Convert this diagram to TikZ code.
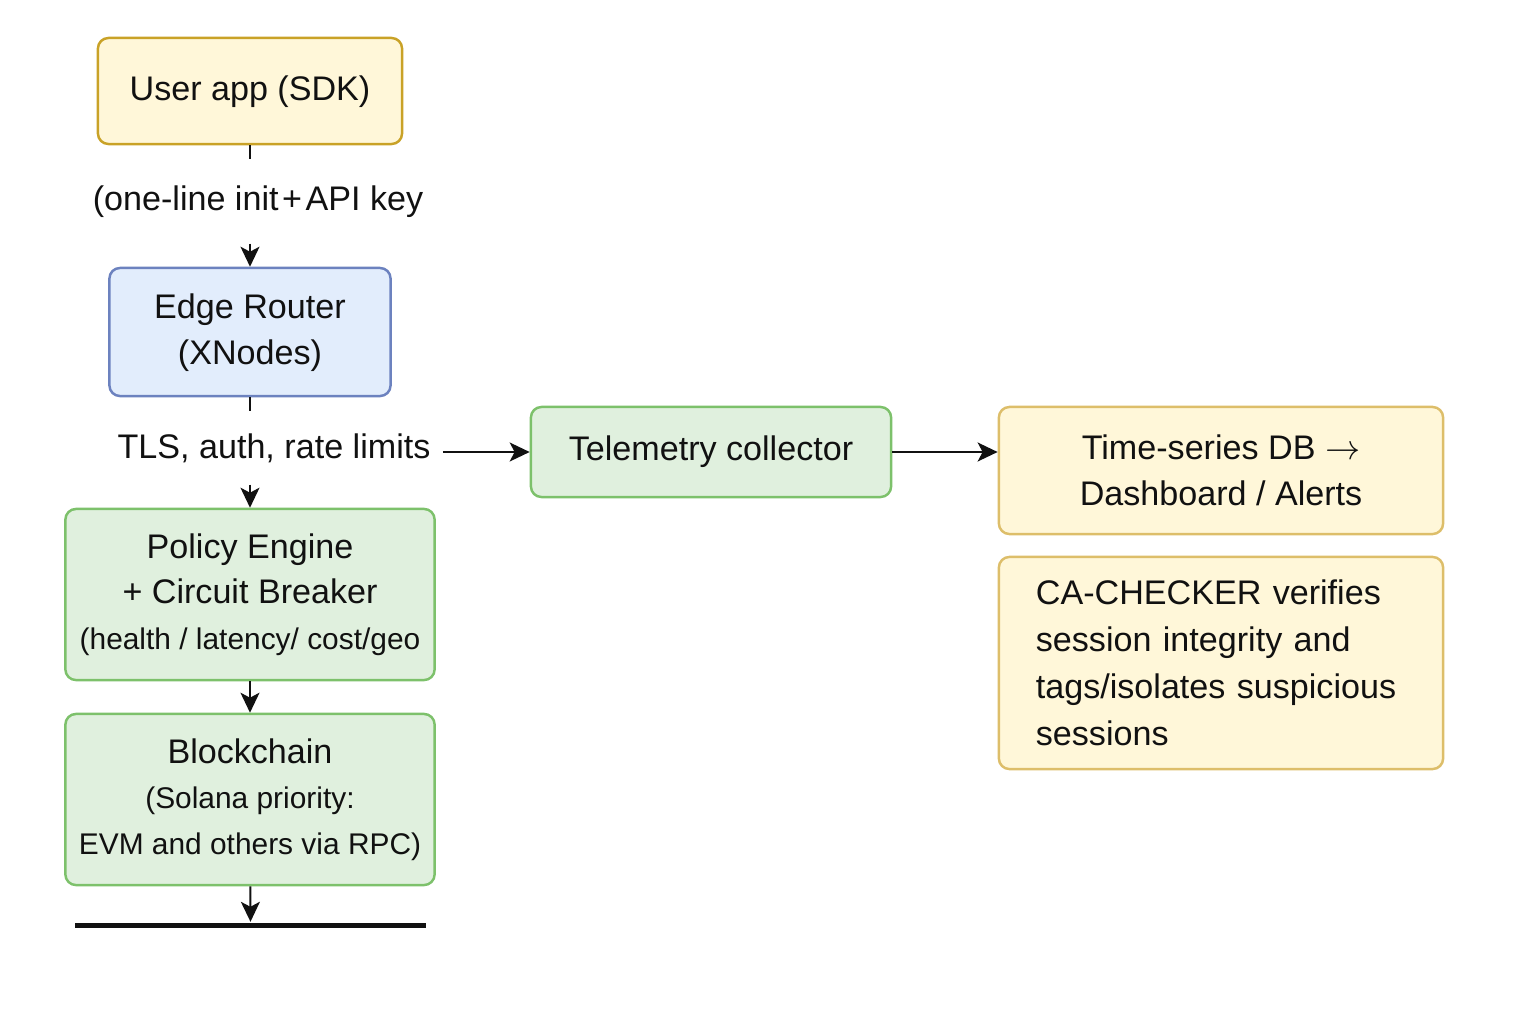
\documentclass[tikz,border=0pt]{standalone}
\usepackage{fontspec}
\setmainfont{Liberation Sans}
\usepackage{tikz}
\usepackage{xcolor}
\usetikzlibrary{arrows.meta,positioning}
\definecolor{ink}{HTML}{111111}
\definecolor{yelbg}{HTML}{FFF7D9}
\definecolor{yeldark}{HTML}{C9A227}
\definecolor{yellite}{HTML}{DDBE6A}
\definecolor{blubg}{HTML}{E2EDFC}
\definecolor{bluline}{HTML}{6C82BF}
\definecolor{grnbg}{HTML}{E0F0DE}
\definecolor{grnline}{HTML}{7DC16B}
\newcommand{\mainfont}{\fontsize{9.7}{13}\selectfont}
\newcommand{\subfont}{\fontsize{8.5}{12.5}\selectfont}
\tikzset{
  box/.style={rounded corners=3pt,line width=0.7pt,align=center,
              inner sep=2pt,font=\mainfont,text=ink},
  userbox/.style={box,draw=yeldark,fill=yelbg},
  edgebox/.style={box,draw=bluline,fill=blubg},
  greenbox/.style={box,draw=grnline,fill=grnbg},
  notebox/.style={box,draw=yellite,fill=yelbg},
  flowlbl/.style={inner sep=0pt,font=\mainfont,text=ink},
  plain/.style={line width=0.5pt,draw=ink},
  arr/.style={-{Stealth[length=2mm,width=1.9mm,inset=0.5mm]},line width=0.55pt,
              draw=ink},
  groundbar/.style={fill=ink,inner sep=0pt,minimum width=3.51cm,
                    minimum height=0.05cm}
}

\begin{document}
\begin{tikzpicture}[x=0.01cm,y=-0.01cm]
    \useasboundingbox (0,0) rectangle (1536,1024);
    \node[userbox,minimum width=3.04cm,minimum height=1.06cm] (user) at (250,91)
      {\strut User app (SDK)};
    \node[flowlbl,minimum height=0.83cm] (initlbl) at (258,201.5)
      {(one-line init\kern1pt+\kern1pt API key};
    \node[edgebox,minimum width=2.81cm,minimum height=1.28cm] (edge) at (250,332)
      {\strut Edge Router\\\strut (XNodes)};
    \node[flowlbl,minimum width=3.36cm,minimum height=0.72cm] (tls) at (274,448)
      {TLS, auth, rate limits};
    \node[greenbox,minimum width=3.69cm,minimum height=1.71cm] (policy) at (250,594.5)
      {\strut Policy Engine\\+ Circuit Breaker\\\subfont (health / latency/ cost/geo\strut};
    \node[greenbox,minimum width=3.69cm,minimum height=1.71cm] (chain) at (250,799.5)
      {\strut Blockchain\\\subfont (Solana priority:\\\subfont EVM and others via RPC)\strut};
    \node[groundbar] (ground) at (250.5,925) {};
    \node[greenbox,minimum width=3.60cm,minimum height=0.90cm] (tele) at (711,452)
      {Telemetry collector};
    \node[notebox,minimum width=4.44cm,minimum height=1.27cm] (tsdb) at (1221,470.5)
      {Time-series DB $\rightarrow$\\Dashboard / Alerts};
    \node[notebox,minimum width=4.44cm,minimum height=2.12cm,text width=3.70cm,
          align=left,font=\fontsize{9.7}{13.4}\selectfont] (cachk) at (1221,663)
      {CA-CHECKER verifies\\session integrity and\\tags/isolates suspicious\\sessions};

    \draw[plain] (user) -- (user |- initlbl.north);
    \draw[arr] (user |- initlbl.south) -- (edge);
    \draw[plain] (edge) -- (edge |- tls.north);
    \draw[arr] (edge |- tls.south) -- (policy);
    \draw[arr] (policy) -- (chain);
    \draw[arr] (chain) -- (ground);
    \draw[arr] (tls.east |- tele.west) -- (tele.west);
    \draw[arr] (tele.east) -- (tele.east -| tsdb.west);
  \end{tikzpicture}
\end{document}
